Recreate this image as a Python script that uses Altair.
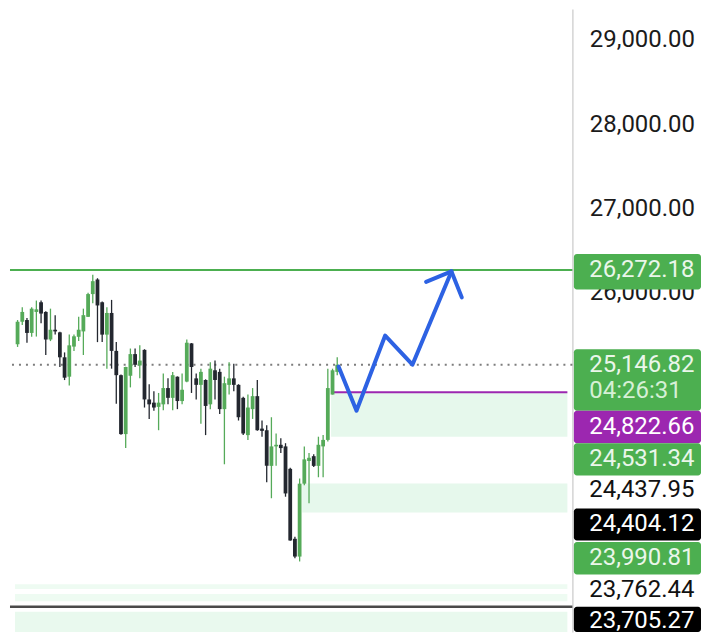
import altair as alt
import pandas as pd

# ---------------- candles ----------------
opens = [25390, 25658, 25678, 25525, 25774, 25889, 25774, 25447, 25563, 25532,
         25236, 25006, 25363, 25479, 25543, 25716, 25986, 26159, 25889, 25505,
         25762, 25312, 25024, 24325, 25017, 25274, 25139, 25324, 24736, 24698,
         24648, 24678, 24871, 24755, 25006, 24717, 24948, 25401, 24986, 24909,
         24967, 24678, 25082, 25063, 24621, 24909, 24986, 24909, 24755, 24313,
         24621, 24775, 24390, 24371, 23948, 24179, 24198, 24179, 23913, 23083,
         22872, 23737, 24006, 24063, 23948, 24179, 24256, 24794, 25063]
closes = [25658, 25774, 25525, 25813, 25805, 25755, 25447, 25563, 25543, 25236,
          24994, 25378, 25485, 25563, 25736, 25986, 26139, 25851, 25505, 25762,
          25312, 25024, 24325, 25121, 25274, 25147, 25197, 24736, 24678, 24640,
          24698, 24871, 24755, 25024, 24717, 24851, 25409, 25121, 24909, 25063,
          24659, 25101, 24967, 24621, 24929, 24986, 24909, 24525, 24332, 24640,
          24775, 24371, 24363, 23948, 24179, 24198, 24159, 23621, 23063, 22872,
          23737, 24025, 24044, 23948, 24198, 24256, 24871, 25082, 25146.82]
highs = [25678, 25831, 25701, 25831, 25909, 25909, 25782, 25813, 25736, 25540,
         25294, 25505, 25505, 25716, 25813, 26001, 26216, 26174, 25897, 25831,
         25917, 25416, 25032, 25125, 25340, 25340, 25378, 25332, 24917, 24832,
         24813, 25044, 24986, 25063, 25009, 25044, 25447, 25405, 25044, 25101,
         24975, 25178, 25197, 25101, 25006, 25178, 25159, 24917, 24767, 24794,
         24871, 24967, 24486, 24429, 24525, 24333, 24275, 24217, 23925, 23106,
         23798, 24179, 24102, 24086, 24294, 24313, 25101, 25101, 25236]
lows = [25359, 25620, 25409, 25479, 25482, 25640, 25263, 25428, 25505, 25121,
        24966, 24902, 25312, 25428, 25263, 25713, 25878, 25416, 25416, 25101,
        25101, 24686, 24317, 24159, 24879, 25121, 24986, 24640, 24505, 24602,
        24371, 24609, 24678, 24609, 24621, 24678, 24940, 24813, 24736, 24448,
        24313, 24621, 24736, 24563, 23967, 24794, 24832, 24486, 24313, 24255,
        24505, 24365, 24294, 23755, 23564, 23948, 24102, 23582, 23060, 22852,
        22814, 23717, 23506, 23936, 23813, 23813, 24236, 24794, 25024]

# ---------------- price levels ----------------
resistance = 26272.18
last_price = 25146.82
purple_level = 24822.66
dark_level = 22276
purple_start = 67.0

# shaded zones (bar-index start, top price, bottom price)
zone_start = [66.7, 60.55, -0.55, -0.55, -0.55]
zone_top = [24822.66, 23740, 22544, 22429, 22218]
zone_bottom = [24294, 23394, 22487, 22341, 21976]
zone_fill = ["#e6f8ec", "#e6f8ec", "#eefbf2", "#eefbf2", "#e9f9ee"]

# hand-drawn blue arrow (bar index, price)
path_i = [68.3, 72.1, 78.2, 84.0, 92.3]
path_p = [25125, 24602, 25494, 25148, 26255]
head_i = [86.9, 92.3, 94.5]
head_p = [26131, 26255, 25947]

# right-hand price tags
axis_values = [26000, 27000, 28000, 29000]
box_top = [26462, 25332, 24602, 24217, 23441, 23045, 22276]
box_bottom = [26040, 24602, 24217, 23833, 23064, 22660, 21976]
box_fill = ["#4caf50", "#4caf50", "#9c27b0", "#4caf50", "#000000", "#4caf50", "#000000"]
tag_text = ["26,272.18", "25,146.82", "04:26:31", "24,822.66", "24,531.34",
            "24,437.95", "24,404.12", "23,990.81", "23,762.44", "23,705.27"]
tag_at = [26272.18, 25146.82, 24833, 24409, 24025, 23660, 23256, 22852, 22472, 22103]
tag_color = ["#eaf6ea", "#eaf6ea", "#d6f0d6", "#ffffff", "#eaf6ea",
             "#111111", "#ffffff", "#eaf6ea", "#111111", "#ffffff"]

W, H = 564, 625
X_DOMAIN = [-0.55, 116.96]
Y_DOMAIN = [21976, 29369]

xs = alt.Scale(domain=X_DOMAIN, nice=False, zero=False)
ys = alt.Scale(domain=Y_DOMAIN, nice=False, zero=False)
yaxis = alt.Axis(orient="right", values=axis_values, format=",.2f",
                 labelFontSize=24, labelFont="Roboto", labelColor="#1b1b1b",
                 ticks=False, grid=False, domain=True, domainColor="#d4d4d4",
                 domainWidth=1.5, labelPadding=17, title=None)


def X(f):
    return alt.X(f"{f}:Q", scale=xs, axis=None)


def Y(f):
    return alt.Y(f"{f}:Q", scale=ys, axis=yaxis)


candles = pd.DataFrame({
    "i": list(range(len(opens))),
    "open": opens, "close": closes, "high": highs, "low": lows,
})
candles["dir"] = ["up" if c >= o else "down" for o, c in zip(opens, closes)]
cenc = alt.Color("dir:N", scale=alt.Scale(domain=["up", "down"],
                                          range=["#55aa59", "#23272f"]), legend=None)

zones = pd.DataFrame({"x0": zone_start, "x1": [X_DOMAIN[1]] * len(zone_start),
                      "top": zone_top, "bottom": zone_bottom, "fill": zone_fill})
zone_layer = alt.Chart(zones).mark_rect().encode(
    x=X("x0"), x2="x1", y=Y("top"), y2="bottom",
    color=alt.Color("fill:N", scale=None))

green_line = alt.Chart(pd.DataFrame({"p": [resistance]})).mark_rule(
    color="#4caf50", strokeWidth=2).encode(y=Y("p"))
dotted_line = alt.Chart(pd.DataFrame({"p": [last_price]})).mark_rule(
    color="#7d7d7d", strokeWidth=2, strokeDash=[2, 5]).encode(y=Y("p"))
dark_line = alt.Chart(pd.DataFrame({"p": [dark_level]})).mark_rule(
    color="#4a4a4a", strokeWidth=2.5).encode(y=Y("p"))
purple_line = alt.Chart(pd.DataFrame({"x0": [purple_start], "x1": [X_DOMAIN[1]],
                                      "p": [purple_level]})).mark_rule(
    color="#9c27b0", strokeWidth=2).encode(x=X("x0"), x2="x1", y=Y("p"))

wicks = alt.Chart(candles).mark_rule(strokeWidth=1.3).encode(
    x=X("i"), y=Y("low"), y2="high", color=cenc)
bodies = alt.Chart(candles).mark_bar(size=3.8).encode(
    x=X("i"), y=Y("open"), y2="close", color=cenc)

arrow = pd.DataFrame({
    "i": path_i + head_i,
    "p": path_p + head_p,
    "seg": ["path"] * len(path_i) + ["head"] * len(head_i),
    "o": list(range(len(path_i))) + list(range(len(head_i))),
})
arrow_layer = alt.Chart(arrow).mark_line(
    color="#2d62e3", strokeWidth=4, strokeCap="round", strokeJoin="round").encode(
    x=X("i"), y=Y("p"), detail="seg:N", order="o:Q")

boxes = pd.DataFrame({"top": box_top, "bottom": box_bottom, "fill": box_fill})
box_layer = alt.Chart(boxes).mark_rect(cornerRadius=3).encode(
    x=alt.value(W + 1.5), x2=alt.value(W + 129), y=Y("top"), y2="bottom",
    color=alt.Color("fill:N", scale=None))

tags = pd.DataFrame({"label": tag_text, "at": tag_at, "tc": tag_color})
tag_layer = alt.Chart(tags).mark_text(
    align="left", baseline="middle", font="Roboto", fontSize=24).encode(
    x=alt.value(W + 17), y=Y("at"), text="label:N",
    color=alt.Color("tc:N", scale=None))

chart = alt.layer(
    zone_layer, green_line, dotted_line, dark_line, purple_line,
    wicks, bodies, arrow_layer, box_layer, tag_layer
).properties(width=W, height=H, padding=0).configure_view(strokeWidth=0)

chart.save("out.html", embed_options={"renderer": "svg", "actions": False})
